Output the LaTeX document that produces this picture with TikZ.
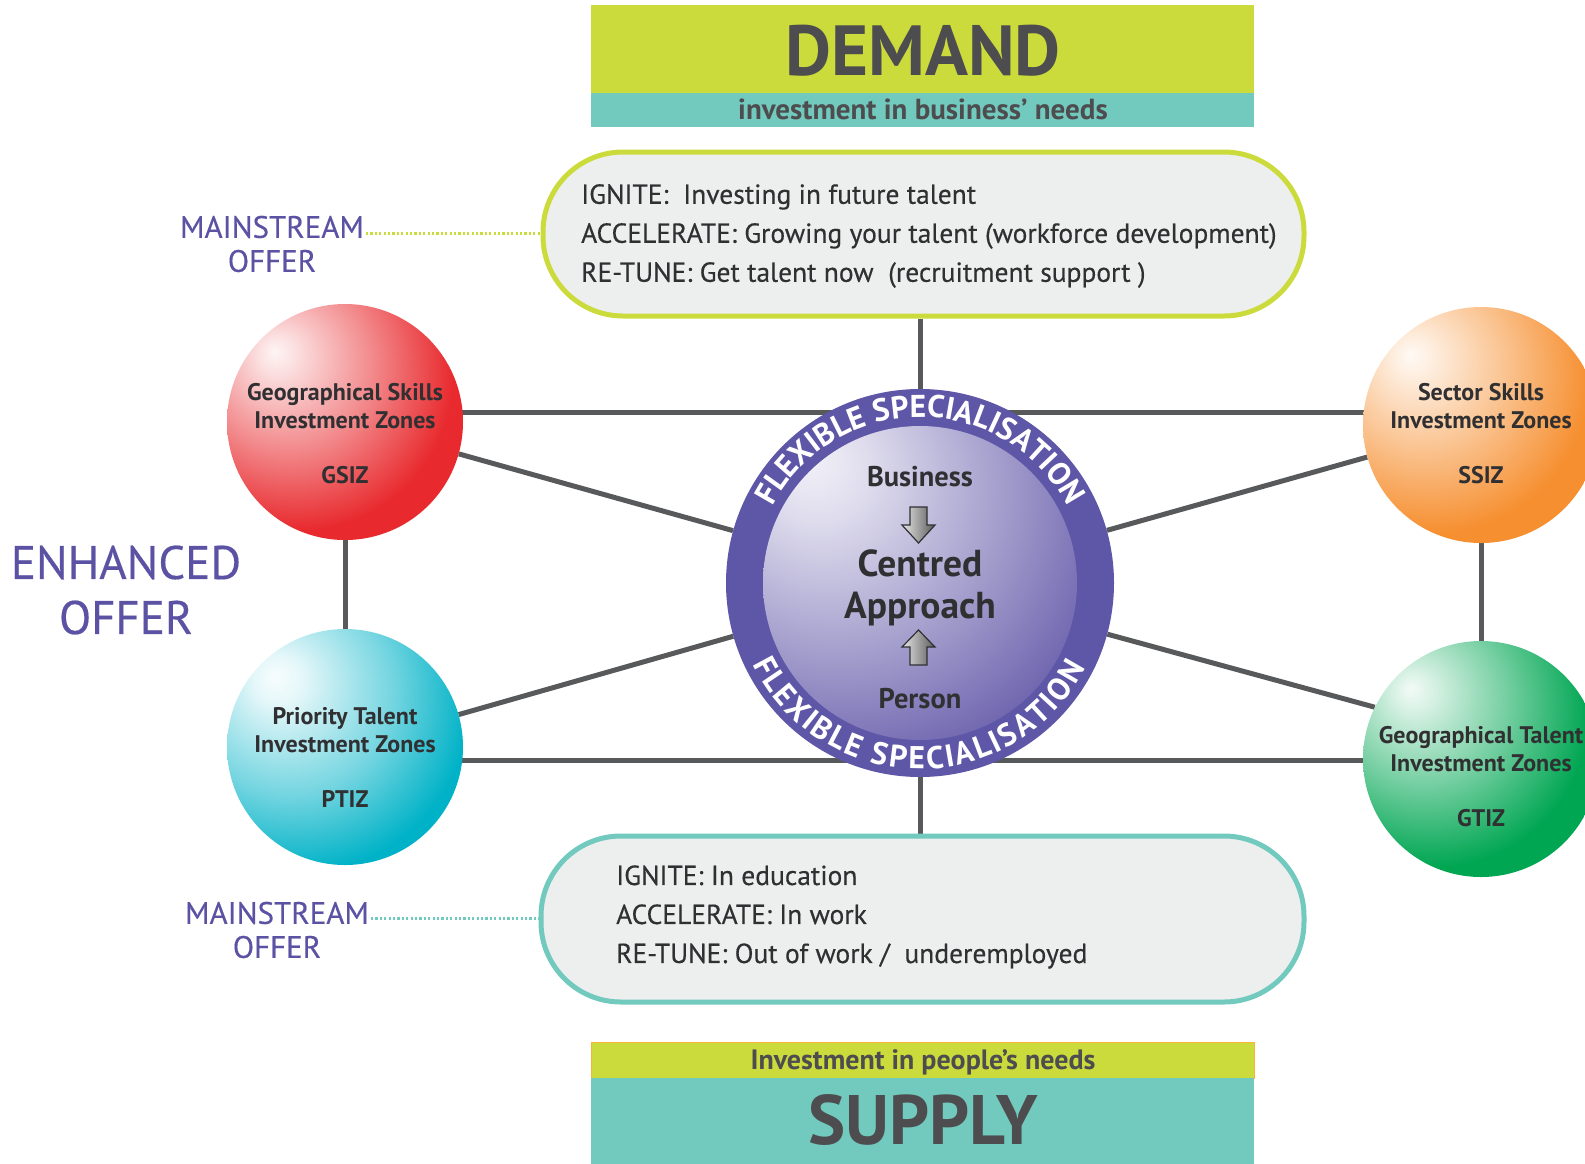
\documentclass[tikz,border=0pt]{standalone}
\usepackage{fontspec}
\setmainfont{PT Sans}
\newfontfamily\medfont[FakeBold=0.35]{PT Sans}
\usetikzlibrary{decorations.text}
\pgfdeclarelayer{bg}
\pgfsetlayers{bg,main}
\definecolor{lime}{RGB}{204,219,60}
\definecolor{tealb}{RGB}{114,201,190}
\definecolor{txt}{RGB}{77,77,79}
\definecolor{dark}{RGB}{48,47,50}
\definecolor{purp}{RGB}{91,82,163}
\definecolor{ringc}{RGB}{94,86,166}
\definecolor{linec}{RGB}{88,89,91}
\definecolor{boxfill}{RGB}{237,238,238}
\definecolor{cRed}{RGB}{232,42,46}
\definecolor{cCyan}{RGB}{0,178,199}
\definecolor{cOrange}{RGB}{246,143,48}
\definecolor{cGreen}{RGB}{0,166,82}
\definecolor{cPurp}{RGB}{98,88,168}
\definecolor{supor}{RGB}{250,180,60}
\pgfdeclareradialshading{redball}{\pgfpoint{-15bp}{15bp}}{color(0bp)=(white!95!cRed); color(4bp)=(white!85!cRed); color(18bp)=(white!45!cRed); color(33bp)=(cRed); color(100bp)=(cRed)}
\pgfdeclareradialshading{cyanball}{\pgfpoint{-15bp}{15bp}}{color(0bp)=(white!97!cCyan); color(5bp)=(white!90!cCyan); color(22bp)=(white!45!cCyan); color(36bp)=(cCyan); color(100bp)=(cCyan)}
\pgfdeclareradialshading{orangeball}{\pgfpoint{-15bp}{15bp}}{color(0bp)=(white!95!cOrange); color(4bp)=(white!85!cOrange); color(18bp)=(white!45!cOrange); color(33bp)=(cOrange); color(100bp)=(cOrange)}
\pgfdeclareradialshading{greenball}{\pgfpoint{-15bp}{15bp}}{color(0bp)=(white!95!cGreen); color(4bp)=(white!85!cGreen); color(18bp)=(white!45!cGreen); color(33bp)=(cGreen); color(100bp)=(cGreen)}
\pgfdeclareradialshading{purpball}{\pgfpoint{-18bp}{20bp}}{color(0bp)=(white!92!cPurp); color(8bp)=(white!80!cPurp); color(28bp)=(white!38!cPurp); color(45bp)=(cPurp); color(100bp)=(cPurp)}
\newcommand\ringfmt{\color{white}\bfseries\fontsize{31.5}{31.5}\selectfont}
\begin{document}
\begin{tikzpicture}[x=1pt,y=-1pt,
  conn/.style={draw=linec, line width=5pt},
  dots/.style={line width=3pt, dash pattern=on 2.2pt off 2.2pt},
  sphere/.style={circle, minimum size=236pt, inner sep=0pt},
  stext/.style={align=center, text=dark, inner sep=0pt, font=\bfseries\fontsize{24}{28}\selectfont},
  btext/.style={align=left, text=dark, inner sep=0pt, font=\medfont\fontsize{27.5}{39}\selectfont, anchor=west},
  offer/.style={align=center, text=purp, inner sep=0pt, font=\medfont\fontsize{31}{34}\selectfont},
  ctext/.style={text=dark, inner sep=0pt, font=\bfseries\fontsize{28.5}{28.5}\selectfont},
  cbig/.style={text=dark, inner sep=0pt, font=\bfseries\fontsize{37.5}{37.5}\selectfont},
  head/.style={text=txt, inner sep=0pt, font=\bfseries\fontsize{71}{71}\selectfont},
  sub/.style={text=txt, inner sep=0pt, font=\bfseries\fontsize{29}{29}\selectfont},
  pill/.style={fill=boxfill, line width=5pt, rounded corners=80pt, inner sep=0pt},
  blockarrow/.style={draw=dark, line width=1.2pt, left color=gray!20, right color=gray!70!black, line join=miter}
]
\useasboundingbox (0,0) rectangle (1585,1163);
\clip (0,0) rectangle (1585,1163);

% DEMAND header
\fill[lime] (591,5) rectangle (1254,93);
\fill[tealb] (591,93) rectangle (1254,127);
\node[head] (demand) at (923,51) {DEMAND};
\node[sub] (demandsub) at (923,109) {investment in business’ needs};

% SUPPLY footer
\fill[lime, draw=supor, line width=1pt] (591,1042) rectangle (1254,1078);
\fill[tealb] (591,1078) rectangle (1254,1170);
\node[sub, font=\bfseries\fontsize{28}{28}\selectfont] (supplysub) at (923,1062) {Investment in people’s needs};
\node[head, font=\bfseries\fontsize{70}{70}\selectfont] (supply) at (923,1120) {SUPPLY};

% pills
\node[pill, draw=lime, minimum width=761pt, minimum height=164pt] (topbox) at (923.5,234) {};
\node[btext] (toptext) at (581,236) {IGNITE:\ \ Investing in future talent\\ACCELERATE: Growing your talent (workforce development)\\RE-TUNE: Get talent now\ \ (recruitment support~)};
\node[pill, draw=tealb, minimum width=763pt, minimum height=166pt] (botbox) at (922.5,919) {};
\node[btext] (bottext) at (616,917) {IGNITE: In education\\ACCELERATE: In work\\RE-TUNE: Out of work /\ \ underemployed};

% offers
\node[offer] (ms1) at (272,244) {MAINSTREAM\\OFFER};
\node[offer] (ms2) at (277,930) {MAINSTREAM\\OFFER};
\node[offer, font=\medfont\fontsize{47}{55}\selectfont] (enh) at (126,590) {ENHANCED\\OFFER};
\coordinate (d1) at (366,233);
\coordinate (d2) at (371,918);
\draw[dots, draw=lime] (d1) -- (d1 -| topbox.west);
\draw[dots, draw=tealb] (d2) -- (d2 -| botbox.west);

% central circle
\node[circle, minimum size=388pt, inner sep=0pt, fill=ringc] (core) at (920,583) {};
\node[circle, minimum size=314pt, inner sep=0pt, shading=purpball] (inner) at (core.center) {};
\begin{scope}[shift={(core.center)}, x=1pt, y=1pt]
  \path[decorate, decoration={text along path, text align=center, text={|\ringfmt|FLEXIBLE SPECIALISATION}}] (165:166) arc[start angle=165, end angle=15, radius=166];
  \path[decorate, decoration={text along path, text align=fit to path, text={|\ringfmt|FLEXIBLE SPECIALISATION}}] (206:186) arc[start angle=206, end angle=333, radius=186];
\end{scope}
\node[ctext] (biz) at (920,477) {Business};
\node[cbig] (centred) at (920,563) {Centred};
\node[cbig] (appr) at (920,609) {Approach};
\node[ctext] (pers) at (920,699) {Person};
\draw[blockarrow] (910,507) -- (927,507) -- (927,525) -- (935,525) -- (918.5,543) -- (902,525) -- (910,525) -- cycle;
\draw[blockarrow] (910,665) -- (927,665) -- (927,647) -- (935,647) -- (918.5,630) -- (902,647) -- (910,647) -- cycle;

% spheres
\node[sphere, shading=redball] (gsiz) at (345,422) {};
\node[stext] (gsizt) at ([yshift=-11.5pt]gsiz.center) {Geographical Skills\\Investment Zones\\[27pt]GSIZ};
\node[sphere, shading=cyanball] (ptiz) at (345,747) {};
\node[stext] (ptizt) at ([yshift=-10pt]ptiz.center) {Priority Talent\\Investment Zones\\[27pt]PTIZ};
\node[sphere, shading=orangeball] (ssiz) at (1481,425) {};
\node[stext] (ssizt) at ([yshift=-8.5pt]ssiz.center) {Sector Skills\\Investment Zones\\[27pt]SSIZ};
\node[sphere, shading=greenball] (gtiz) at (1481,759) {};
\node[stext] (gtizt) at ([yshift=-18pt]gtiz.center) {Geographical Talent\\Investment Zones\\[27pt]GTIZ};

% connectors
\begin{pgfonlayer}{bg}
  \draw[conn] (core.center) -- (core.center |- topbox.south);
  \draw[conn] (core.center) -- (core.center |- botbox.north);
  \draw[conn] ([yshift=10pt]gsiz.center) -- ([yshift=13pt]ssiz.center);
  \draw[conn] ([yshift=-13pt]ptiz.center) -- ([yshift=-1pt]gtiz.center);
  \draw[conn] (gsiz) -- (core);
  \draw[conn] (ssiz) -- (core);
  \draw[conn] (ptiz) -- (core);
  \draw[conn] (gtiz.154) -- (core);
  \draw[conn] (gsiz) -- (ptiz);
  \draw[conn] (ssiz) -- (gtiz);
\end{pgfonlayer}
\end{tikzpicture}
\end{document}
